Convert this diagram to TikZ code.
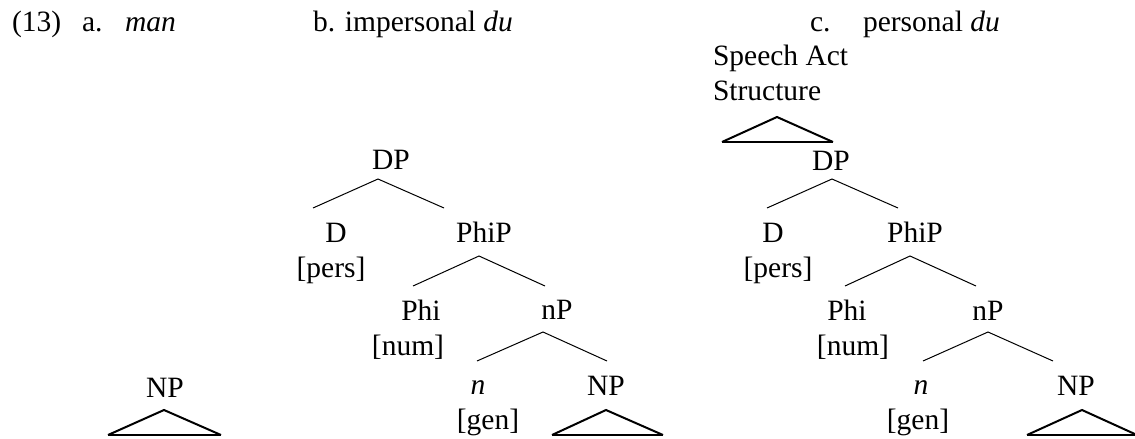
\documentclass[tikz,border=0pt]{standalone}
\usepackage{fontspec}
\setmainfont{Liberation Serif}
\begin{document}
\begin{tikzpicture}[x=0.5pt,y=-0.5pt,
  lbl/.style={inner sep=0pt,outer sep=0pt,font=\fontsize{14.75}{17.7}\selectfont,anchor=base},
  lblw/.style={lbl,anchor=base west},
  branch/.style={line width=0.5pt},
  tri/.style={line width=1pt,line join=miter},
  triBase/.style={line width=1.3pt}]
\useasboundingbox (0,0) rectangle (1135,439);
% headers
\node[lblw] (num) at (12,32) {(13)};
\node[lblw] (ha) at (82,32) {a.};
\node[lblw] (hman) at (125,32) {\textit{man}};
\node[lblw] (hb) at (313,32) {b. impersonal \textit{du}};
\node[lblw] (hc) at (810,32) {c.};
\node[lblw] (hcp) at (863,32) {personal \textit{du}};
% tree a
\node[lbl] (aNP) at (165,397) {NP};
\coordinate (aT) at (164,410); \coordinate (aL) at (108,435); \coordinate (aR) at (221,435);
\draw[tri] (aL) -- (aT) -- (aR);
\draw[triBase] (aL) -- (aR);
% tree b
\node[lbl] (bDP) at (391,169) {DP};
\node[lbl] (bD) at (336,242) {D};
\node[lbl] (bpers) at (331,277) {[pers]};
\node[lbl] (bPhiP) at (484,242) {PhiP};
\node[lbl] (bPhi) at (421,320) {Phi};
\node[lbl] (bnum) at (408,355) {[num]};
\node[lbl] (bnP) at (557,319) {nP};
\node[lbl] (bn) at (478,394) {\textit{n}};
\node[lbl] (bgen) at (488,429) {[gen]};
\node[lbl] (bNP) at (606,395) {NP};
\coordinate (bDPt) at (378,179); \coordinate (bDPl) at (313,208); \coordinate (bDPr) at (444,208);
\coordinate (bPhiPt) at (479,256); \coordinate (bPhiPl) at (413,286); \coordinate (bPhiPr) at (545,286);
\coordinate (bnPt) at (543,332); \coordinate (bnPl) at (477,361); \coordinate (bnPr) at (607,361);
\draw[branch] (bDPl) -- (bDPt) -- (bDPr);
\draw[branch] (bPhiPl) -- (bPhiPt) -- (bPhiPr);
\draw[branch] (bnPl) -- (bnPt) -- (bnPr);
\coordinate (bT) at (606,410); \coordinate (bL) at (552,435); \coordinate (bR) at (663,435);
\draw[tri] (bL) -- (bT) -- (bR);
\draw[triBase] (bL) -- (bR);
% tree c
\node[lblw] (sa1) at (713,65) {Speech Act};
\node[lblw] (sa2) at (713,100) {Structure};
\coordinate (sT) at (777,117); \coordinate (sL) at (722,142); \coordinate (sR) at (833,142);
\draw[tri] (sL) -- (sT) -- (sR);
\draw[triBase] (sL) -- (sR);
\node[lbl] (cDP) at (831,170) {DP};
\node[lbl] (cD) at (773,242) {D};
\node[lbl] (cpers) at (778,277) {[pers]};
\node[lbl] (cPhiP) at (915,242) {PhiP};
\node[lbl] (cPhi) at (847,320) {Phi};
\node[lbl] (cnum) at (853,355) {[num]};
\node[lbl] (cnP) at (988,320) {nP};
\node[lbl] (cn) at (921,394) {\textit{n}};
\node[lbl] (cgen) at (918,429) {[gen]};
\node[lbl] (cNP) at (1076,395) {NP};
\coordinate (cDPt) at (832,179); \coordinate (cDPl) at (767,208); \coordinate (cDPr) at (898,208);
\coordinate (cPhiPt) at (910,256); \coordinate (cPhiPl) at (845,286); \coordinate (cPhiPr) at (976,286);
\coordinate (cnPt) at (988,332); \coordinate (cnPl) at (923,361); \coordinate (cnPr) at (1053,361);
\draw[branch] (cDPl) -- (cDPt) -- (cDPr);
\draw[branch] (cPhiPl) -- (cPhiPt) -- (cPhiPr);
\draw[branch] (cnPl) -- (cnPt) -- (cnPr);
\coordinate (cT) at (1082,410); \coordinate (cL) at (1027,435); \coordinate (cR) at (1137,435);
\draw[tri] (cL) -- (cT) -- (cR);
\draw[triBase] (cL) -- (cR);
\end{tikzpicture}
\end{document}
